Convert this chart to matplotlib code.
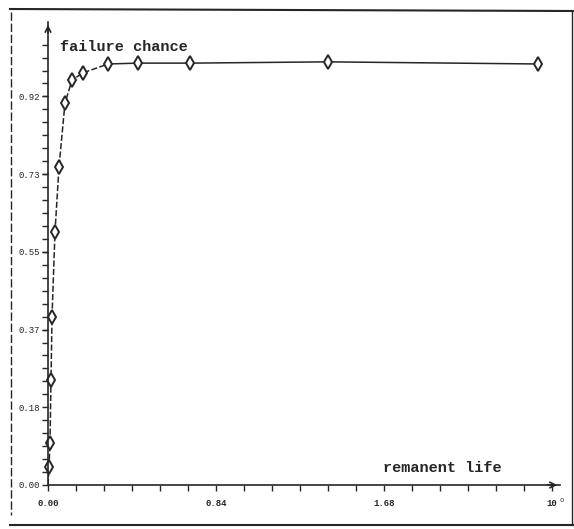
import matplotlib
matplotlib.use("Agg")
import matplotlib.pyplot as plt
from matplotlib.lines import Line2D
import numpy as np

# data
remanent_life = [0.005, 0.010, 0.015, 0.020, 0.035, 0.055, 0.085, 0.120,
                 0.175, 0.300, 0.450, 0.710, 1.400, 2.450]
failure_chance = [0.042, 0.099, 0.248, 0.396, 0.597, 0.750, 0.901, 0.955,
                  0.972, 0.993, 0.995, 0.995, 0.998, 0.993]
y_ticks = [0.0, 0.1833, 0.3667, 0.55, 0.7333, 0.9167]
y_labels = ["0.00", "0.18", "0.37", "0.55", "0.73", "0.92"]
x_ticks = [0.0, 0.84, 1.68, 2.52]
x_labels = ["0.00", "0.84", "1.68", "10"]

W, H = 574, 529
fig = plt.figure(figsize=(W / 100, H / 100), dpi=100)
ax = fig.add_axes([48 / W, (H - 485) / H, (560 - 48) / W, (485 - 22) / H])

ink = "#262626"
mono = "Liberation Mono"

# steep part looks dashed, flat part solid
split = 9
ax.plot([0.0] + remanent_life[:split + 1], [0.0] + failure_chance[:split + 1],
        color=ink, lw=1.1, ls=(0, (4, 1.5)))
ax.plot(remanent_life[split:], failure_chance[split:], color=ink, lw=1.1)
ax.plot(remanent_life, failure_chance, ls="none", marker="d", ms=7,
        mfc="white", mec=ink, mew=1.4, clip_on=False)

ax.set_xlim(0, 2.56)
ax.set_ylim(0, 1.092)

for s in ["top", "right"]:
    ax.spines[s].set_visible(False)
for s in ["left", "bottom"]:
    ax.spines[s].set_color(ink)
    ax.spines[s].set_linewidth(1.2)

ax.set_yticks(y_ticks)
ax.set_yticklabels(y_labels, fontfamily=mono, fontsize=6.5, color=ink)
ax.set_yticks(np.arange(0, 1.05, 0.1833 / 6), minor=True)
ax.set_xticks(x_ticks)
ax.set_xticklabels(x_labels, fontfamily=mono, fontsize=6.5, color=ink,
                   fontweight="bold")
ax.set_xticks(np.arange(0, 2.53, 0.14), minor=True)
ax.tick_params(axis="both", which="both", direction="out", color=ink,
               width=1.0, length=4, pad=2)
ax.tick_params(axis="x", which="both", pad=6)
ax.text(2.555, -0.04, "o", fontsize=5, fontfamily=mono, color=ink,
        transform=ax.transData)

# arrow heads on the axes
ax.annotate("", xy=(0, 1.0), xytext=(0, 0.97), xycoords="axes fraction",
            arrowprops=dict(arrowstyle="->", lw=1.2, color=ink))
ax.annotate("", xy=(1.0, 0), xytext=(0.97, 0), xycoords="axes fraction",
            arrowprops=dict(arrowstyle="->", lw=1.2, color=ink))

ax.text(0.06, 1.033, "failure chance", fontfamily=mono, fontsize=11,
        fontweight="bold", color=ink, va="center")
ax.text(1.675, 0.04, "remanent life", fontfamily=mono, fontsize=11,
        fontweight="bold", color=ink, va="center")

# outer frame of the scanned page
fig.add_artist(Line2D([10 / W, 1.0], [1 - 9 / H, 1 - 11 / H], color=ink, lw=1.5))
fig.add_artist(Line2D([10 / W, 1.0], [1 - 525 / H, 1 - 525 / H], color=ink, lw=1.5))
fig.add_artist(Line2D([11 / W, 11 / W], [1 - 12 / H, 1 - 515 / H], color=ink,
                      lw=1.0, ls=(0, (6, 2))))
fig.add_artist(Line2D([572 / W, 572 / W], [1 - 11 / H, 1 - 525 / H], color=ink, lw=1.0))

fig.savefig("out.png", dpi=100)
